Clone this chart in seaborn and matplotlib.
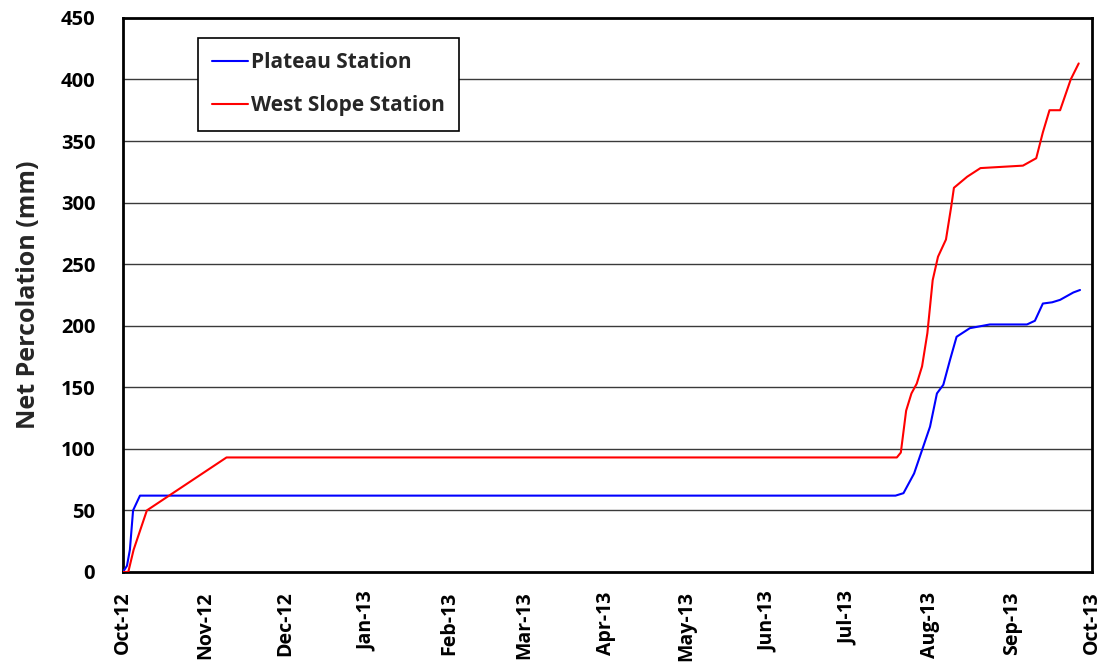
import numpy as np
import pandas as pd
import matplotlib
matplotlib.use("Agg")
import matplotlib.pyplot as plt
import matplotlib.dates as mdates
import seaborn as sns

# Cumulative net percolation (mm), days counted from 1 Oct 2012
plateau_days = [0, 1.5, 2.6, 3.8, 6.4, 291, 294, 298, 301, 304, 306.6, 309, 311.5,
                314, 319, 326.5, 340.5, 343.5, 346.5, 350, 353, 358, 360.5]
plateau_mm = [0, 5, 18, 50, 62, 62, 64, 80, 99, 118, 145, 152, 172,
              191, 198, 201, 201, 204, 218, 219, 221, 227, 229]

west_days = [0, 2, 4, 9, 39, 291.5, 293, 295, 297, 299, 301, 303, 305, 307, 310,
             312, 313, 318, 323, 339, 344, 346.5, 349, 353, 357, 360]
west_mm = [0, 0, 18, 50, 93, 93, 97, 131, 145, 153, 167, 194, 237, 256, 270,
           297, 312, 321, 328, 330, 336, 357, 375, 375, 400, 413]

series_names = ["Plateau Station", "West Slope Station"]
series_colors = ["#0000ff", "#ff0000"]
start_date = pd.Timestamp("2012-10-01")
month_ticks = pd.date_range("2012-10-01", "2013-10-01", freq="MS")
y_ticks = list(range(0, 451, 50))

frames = []
for name, d, v in [(series_names[0], plateau_days, plateau_mm),
                   (series_names[1], west_days, west_mm)]:
    frames.append(pd.DataFrame({
        "date": start_date + pd.to_timedelta(d, unit="D"),
        "mm": v,
        "station": name,
    }))
df = pd.concat(frames, ignore_index=True)

sns.set_theme(style="white")
plt.rcParams["font.family"] = ["Open Sans", "DejaVu Sans"]
plt.rcParams["font.weight"] = "bold"

fig = plt.figure(figsize=(11.03, 6.62), dpi=100)
ax = fig.add_axes([0.1115, 0.136, 0.8785, 0.837])

# horizontal gridlines
for yv in y_ticks[1:-1]:
    ax.axhline(yv, color="#3a3a3a", lw=1.0, zorder=1)

sns.lineplot(data=df, x="date", y="mm", hue="station", hue_order=series_names,
             palette=series_colors, lw=1.5, ax=ax, legend=False, zorder=3,
             estimator=None, sort=False)

ax.set_xlim(month_ticks[0], month_ticks[-1])
ax.set_ylim(0, 450)
ax.set_yticks(y_ticks)
ax.set_yticks(range(0, 451, 10), minor=True)
ax.set_xticks(month_ticks)
minor = [m + pd.Timedelta(days=k) for m in month_ticks[:-1] for k in (8, 15, 23)]
ax.set_xticks(minor, minor=True)
ax.xaxis.set_major_formatter(mdates.DateFormatter("%b-%y"))

ax.tick_params(axis="both", which="both", direction="in", length=5, width=1,
               colors="black", top=False, right=False)
ax.tick_params(axis="both", which="major", length=8)
ax.tick_params(axis="y", labelsize=14.5, pad=20)
ax.tick_params(axis="x", labelsize=14, rotation=90, pad=14)
for lab in ax.get_xticklabels() + ax.get_yticklabels():
    lab.set_fontweight("bold")

ax.set_xlabel("")
ax.set_ylabel("Net Percolation (mm)", fontsize=18, fontweight="bold", labelpad=14)

for s in ax.spines.values():
    s.set_visible(True)
    s.set_color("black")
    s.set_linewidth(2)

handles = [plt.Line2D([], [], color=c, lw=1.5) for c in series_colors]
leg = ax.legend(handles, series_names, loc="upper left",
                bbox_to_anchor=(0.077, 0.964), borderaxespad=0,
                frameon=True, fancybox=False,
                edgecolor="black", handlelength=1.7, handletextpad=0.15,
                labelspacing=1.05, borderpad=0.7,
                prop={"size": 15, "weight": "bold"})
leg.get_frame().set_linewidth(1.2)
leg.get_frame().set_alpha(1)

fig.savefig("out.png", dpi=100, facecolor="white")
